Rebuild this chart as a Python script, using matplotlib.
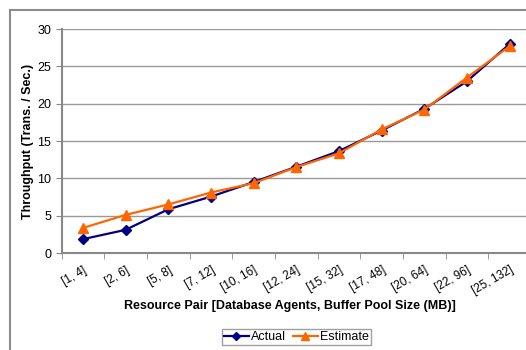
import matplotlib.pyplot as plt
import numpy as np
from matplotlib.patches import Rectangle

plt.rcParams['font.family'] = ['Liberation Sans', 'DejaVu Sans']

# data
pairs = ["[1, 4]", "[2, 6]", "[5, 8]", "[7, 12]", "[10, 16]", "[12, 24]",
         "[15, 32]", "[17, 48]", "[20, 64]", "[22, 96]", "[25, 132]"]
actual = [1.85, 3.1, 5.85, 7.55, 9.5, 11.55, 13.65, 16.4, 19.3, 23.0, 28.0]
estimate = [3.35, 5.1, 6.5, 8.1, 9.35, 11.5, 13.35, 16.55, 19.2, 23.5, 27.7]

fig = plt.figure(figsize=(5.26, 3.5), dpi=100)
# outer chart frame (cut off on right/bottom like the source)
fig.patches.append(Rectangle((10 / 526, -0.1), 1.2, 1.1 - 10 / 350,
                             transform=fig.transFigure, fill=False,
                             edgecolor="#8c8c8c", lw=1.5))

ax = fig.add_axes([61.5 / 526, 1 - 253 / 350, 469.5 / 526, 224 / 350])
x = np.arange(len(pairs))

ax.plot(x, actual, color="#000080", marker="D", markersize=5.5, lw=1.6,
        label="Actual", zorder=3)
ax.plot(x, estimate, color="#FF6600", marker="^", markersize=7, lw=1.6,
        label="Estimate", zorder=4)

ax.set_xlim(-0.5, len(pairs) - 0.5)
ax.set_ylim(0, 30)
ax.set_yticks(np.arange(0, 31, 5))
ax.yaxis.grid(True, color="#999999", lw=1)
ax.set_axisbelow(True)

ax.set_xticks(x)
ax.set_xticklabels(pairs, rotation=30, ha="right", rotation_mode="anchor")
ax.set_xticks(np.arange(-0.5, len(pairs), 1), minor=True)
ax.tick_params(axis="x", which="major", length=0, pad=8, labelsize=8.5)
ax.tick_params(axis="x", which="minor", length=4, color="#888888")
ax.tick_params(axis="y", length=4, color="#888888", labelsize=9)

for s in ["top", "right"]:
    ax.spines[s].set_visible(False)
for s in ["left", "bottom"]:
    ax.spines[s].set_color("#888888")
    ax.spines[s].set_linewidth(1.5)

ax.set_ylabel("Throughput (Trans. / Sec.)", fontsize=9, fontweight="bold",
              labelpad=2)
fig.text(290 / 526, 1 - 306 / 350,
         "Resource Pair [Database Agents, Buffer Pool Size (MB)]",
         ha="center", va="center", fontsize=9, fontweight="bold")

leg = fig.legend(loc="upper left", bbox_to_anchor=(222 / 526, 1 - 329 / 350),
                 ncol=2, fontsize=9, frameon=True, fancybox=False,
                 handlelength=2.0, handletextpad=0.2, columnspacing=0.5,
                 borderpad=0.15, borderaxespad=0, markerscale=0.8)
leg.get_frame().set_edgecolor("#888888")
leg.get_frame().set_linewidth(1)

fig.savefig("out.png", dpi=100)
